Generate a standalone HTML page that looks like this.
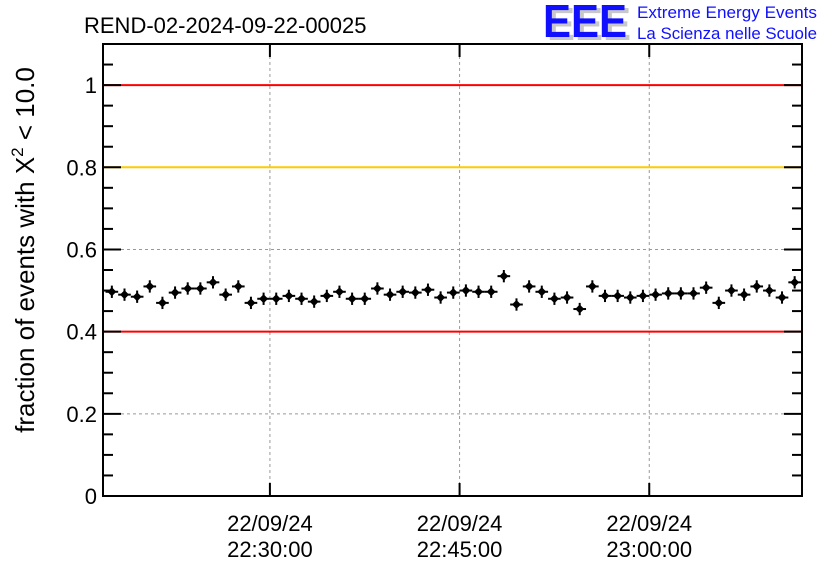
<!DOCTYPE html>
<html><head><meta charset="utf-8"><style>
body{margin:0;background:#fff;}
svg{display:block;font-family:"Liberation Sans",sans-serif;}
</style></head><body>
<svg id="c" width="836" height="572" viewBox="0 0 836 572">
<text x="84" y="33" font-size="22">REND-02-2024-09-22-00025</text>
<g>
<text x="547" y="40" font-size="46" font-weight="bold" fill="#c8c8c8" textLength="84" lengthAdjust="spacingAndGlyphs">EEE</text>
<text x="543" y="37" font-size="46" font-weight="bold" fill="#1010ff" textLength="84" lengthAdjust="spacingAndGlyphs">EEE</text>
<text x="637" y="18" font-size="17" fill="#1010ff" textLength="180" lengthAdjust="spacingAndGlyphs">Extreme Energy Events</text>
<text x="637" y="39" font-size="17" fill="#1010ff" textLength="180" lengthAdjust="spacingAndGlyphs">La Scienza nelle Scuole</text>
</g>
<text transform="translate(34,250) rotate(-90)" text-anchor="middle" font-size="26">fraction of events with X<tspan dy="-11" font-size="17">2</tspan><tspan dy="11"> &lt; 10.0</tspan></text>
<g id="plot"></g>
</svg>
<script>
const values=[0.497,0.49,0.485,0.51,0.47,0.495,0.505,0.505,0.52,0.49,0.51,0.47,0.48,0.48,0.487,0.48,0.473,0.487,0.497,0.48,0.48,0.505,0.49,0.497,0.495,0.502,0.483,0.495,0.5,0.497,0.497,0.535,0.466,0.51,0.497,0.48,0.483,0.455,0.51,0.487,0.487,0.483,0.487,0.49,0.493,0.493,0.493,0.507,0.47,0.5,0.49,0.51,0.5,0.483,0.52];
const errors=values.map(()=>0.015);
const firstMinute=-12.5; // minutes relative to 22:30:00
const yTicks=[0,0.2,0.4,0.6,0.8,1];
const yTickLabels=["0","0.2","0.4","0.6","0.8","1"];
const xTicks=[0,15,30];
const xTickLabels=["22:30:00","22:45:00","23:00:00"];
const refLines=[1,0.8,0.4];
const refColors=["#ff0000","#ffcc00","#ff0000"];

const L=103,R=802,T=44,B=496,xmin=-13.2,xmax=42.08,ymin=0,ymax=1.1;
const X=v=>L+(v-xmin)/(xmax-xmin)*(R-L);
const Y=v=>B-(v-ymin)/(ymax-ymin)*(B-T);
const g=document.getElementById('plot');
const NS="http://www.w3.org/2000/svg";
function mk(t,a,p){const e=document.createElementNS(NS,t);for(const k in a)e.setAttribute(k,a[k]);(p||g).appendChild(e);return e;}
yTicks.forEach(v=>{if(v>0&&v<1){const l=mk('line',{x1:L,x2:R,y1:Y(v),y2:Y(v),stroke:'#999','stroke-dasharray':'3,3'});

}});
xTicks.forEach(v=>{const l=mk('line',{x1:X(v),x2:X(v),y1:T,y2:B,stroke:'#999','stroke-dasharray':'3,3'});

});
refLines.forEach((v,i)=>{const l=mk('line',{x1:L,x2:R,y1:Y(v),y2:Y(v),stroke:refColors[i],'stroke-width':2});

});
for(let k=0;k<=22;k++){const v=k*0.05,y=Y(v);const len=(k%4===0)?18:10;
mk('line',{x1:L,x2:L+len,y1:y,y2:y,stroke:'#000','stroke-width':2});
mk('line',{x1:R,x2:R-len,y1:y,y2:y,stroke:'#000','stroke-width':2});}
yTicks.forEach((v,i)=>{const t=mk('text',{x:L-6,y:Y(v)+8,'text-anchor':'end','font-size':22});t.textContent=yTickLabels[i];

});
xTicks.forEach((v,i)=>{const x=X(v);
mk('line',{x1:x,x2:x,y1:B,y2:B-13,stroke:'#000','stroke-width':2});
mk('line',{x1:x,x2:x,y1:T,y2:T+13,stroke:'#000','stroke-width':2});
const t1=mk('text',{x:x,y:531,'text-anchor':'middle','font-size':22});t1.textContent="22/09/24";


const t2=mk('text',{x:x,y:557,'text-anchor':'middle','font-size':22});t2.textContent=xTickLabels[i];

});
values.forEach((v,i)=>{const m=firstMinute+i;const x=X(m),y=Y(v);
const p=mk('g',{});


mk('line',{x1:X(m-0.5),x2:X(m+0.5),y1:y,y2:y,stroke:'#000','stroke-width':2},p);
mk('line',{x1:x,x2:x,y1:Y(v-errors[i]),y2:Y(v+errors[i]),stroke:'#000','stroke-width':2},p);
mk('path',{d:`M${x-4.5},${y} L${x},${y-4.5} L${x+4.5},${y} L${x},${y+4.5}Z`,fill:'#000'},p);});
const f=mk('rect',{x:L,y:T,width:R-L,height:B-T,fill:'none',stroke:'#000','stroke-width':2});


</script>
</body></html>
